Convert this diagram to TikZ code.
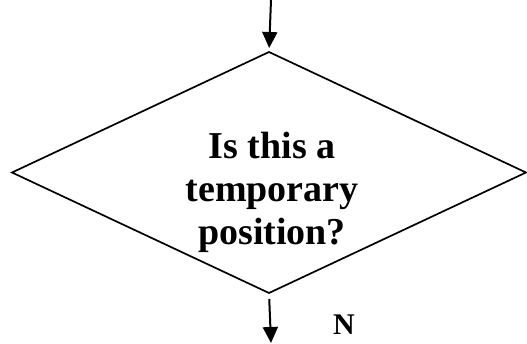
\documentclass[tikz,border=0pt]{standalone}
\usepackage{fontspec}
\setmainfont{Liberation Serif}
\usetikzlibrary{arrows.meta,positioning,shapes.geometric}

\begin{document}
\begin{tikzpicture}[x=1pt,y=-1pt,>={Triangle[length=16pt,width=15pt]},line join=miter]
\useasboundingbox[fill=white] (0,0) rectangle (527,344);
\tikzset{flow/.style={draw=black,line width=2pt},decision/.style={diamond,draw=black,line width=1.7pt,minimum width=514pt,minimum height=241pt,inner sep=0pt,outer sep=0pt},qtext/.style={align=center,font=\fontsize{38}{43}\selectfont\bfseries}}
\node[decision] (ask) at (269,172.5) {};
\node[qtext] (asktext) at (272,192) {Is this a\\temporary\\position?};
\coordinate (entry) at (271,0);
\coordinate (exitno) at (271,343);
\draw[flow,->,shorten >=4pt] (entry) -- (ask.north);
\draw[flow,->,shorten <=6pt] (ask.south) -- (exitno);
\node[font=\fontsize{30}{32}\selectfont\bfseries] (nolabel) at (344,325) {N};
\end{tikzpicture}
\end{document}
